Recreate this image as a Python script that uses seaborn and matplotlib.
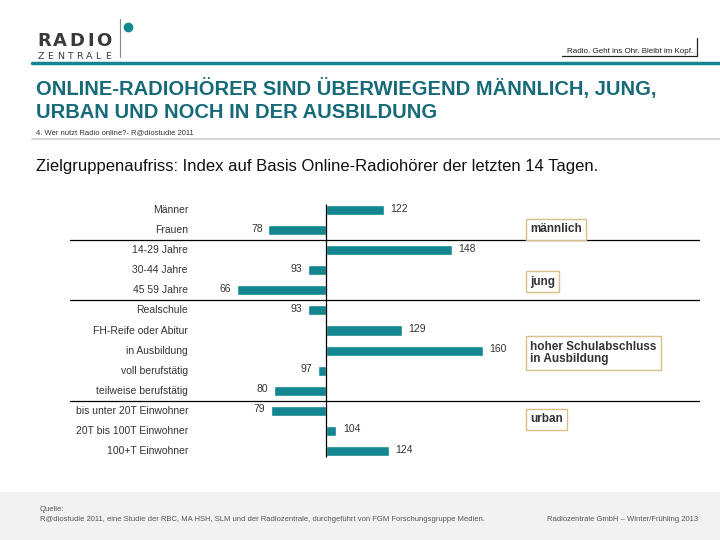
import matplotlib
matplotlib.use("Agg")
import matplotlib.pyplot as plt
import seaborn as sns
import pandas as pd
from matplotlib.lines import Line2D
from matplotlib.patches import Rectangle

# data (index, base = 100)
categories = ["Männer", "Frauen", "14-29 Jahre", "30-44 Jahre", "45 59 Jahre",
              "Realschule", "FH-Reife oder Abitur", "in Ausbildung",
              "voll berufstätig", "teilweise berufstätig",
              "bis unter 20T Einwohner", "20T bis 100T Einwohner", "100+T Einwohner"]
index_values = [122, 78, 148, 93, 66, 93, 129, 160, 97, 80, 79, 104, 124]
base = 100
group_breaks = [1.5, 4.5, 9.5]
notes = ["männlich", "jung", "hoher Schulabschluss\nin Ausbildung", "urban"]

df = pd.DataFrame({"Gruppe": categories, "Index": index_values})
df["Abweichung"] = df["Index"] - base

teal = "#13868f"
title_col = "#176b78"
text_col = "#333333"
sans = ["Liberation Sans", "DejaVu Sans"]

sns.set_style("white")
plt.rcParams["font.family"] = sans

W, H = 720, 540
fig = plt.figure(figsize=(7.2, 5.4), dpi=100)


def fx(x):
    return x / W


def fy(y):
    return 1 - y / H


# header / logo (letter-spaced)
radio_x = [37, 53, 69, 87, 96]
for ch, lx in zip("RADIO", radio_x):
    fig.text(fx(lx), fy(46.5), ch, fontsize=13, fontweight="bold", color="#3a3a3a",
             family=["DejaVu Sans"], ha="left", va="baseline")
for k, ch in enumerate("ZENTRALE"):
    fig.text(fx(38 + k * 9.6), fy(58.5), ch, fontsize=6.8, color="#3a3a3a",
             family=["DejaVu Sans"], ha="left", va="baseline")
fig.add_artist(Line2D([fx(120), fx(120)], [fy(19), fy(57)], color="#888888", lw=0.8))
fig.add_artist(Line2D([fx(128)], [fy(27)], marker="o", ms=6, color=teal, lw=0))
fig.text(fx(693), fy(53), "Radio. Geht ins Ohr. Bleibt im Kopf.", fontsize=5.8,
         color="#222222", ha="right", va="baseline")
fig.add_artist(Line2D([fx(562), fx(697), fx(697)], [fy(56), fy(56), fy(38)],
                      color="#222222", lw=0.9))
fig.add_artist(Line2D([fx(32), fx(720)], [fy(63), fy(63)], color=teal, lw=2.5))

fig.text(fx(36), fy(95), "ONLINE-RADIOHÖRER SIND ÜBERWIEGEND MÄNNLICH, JUNG,",
         fontsize=14.5, fontweight="bold", color=title_col, va="baseline")
fig.text(fx(36), fy(118), "URBAN UND NOCH IN DER AUSBILDUNG",
         fontsize=14.5, fontweight="bold", color=title_col, va="baseline")
fig.text(fx(36), fy(134), "4. Wer nutzt Radio online?- R@diostudie 2011",
         fontsize=5.5, color="#333333", va="baseline")
fig.add_artist(Line2D([fx(32), fx(720)], [fy(139), fy(139)], color="#cfcfcf", lw=1.2))

fig.text(fx(36), fy(171), "Zielgruppenaufriss: Index auf Basis Online-Radiohörer der letzten 14 Tagen.",
         fontsize=12, color="#111111", va="baseline")

# chart
ax_left, ax_right = 70, 700
ax_top, ax_bottom = 200, 461
ax = fig.add_axes([fx(ax_left), fy(ax_bottom), (ax_right - ax_left) / W,
                   (ax_bottom - ax_top) / H])
sns.barplot(data=df, x="Abweichung", y="Gruppe", orient="h", color=teal,
            width=0.5, saturation=1, ax=ax)

scale = 2.62  # px per index point
x0 = 326
ax.set_xlim((ax_left - x0) / scale, (ax_right - x0) / scale)
ax.set_ylim(12.5, -0.5)
ax.set_xlabel("")
ax.set_ylabel("")
ax.set_xticks([])
ax.set_yticks([])
for s in ax.spines.values():
    s.set_visible(False)

ax.vlines(0, -0.3, 12.3, color="black", lw=0.9)
for b in group_breaks:
    ax.axhline(b, color="black", lw=0.9)

lab_x = (188 - ax_left) / (ax_right - ax_left)
for i, (cat, val, dev) in enumerate(zip(df["Gruppe"], df["Index"], df["Abweichung"])):
    ax.text(lab_x, i, cat, transform=ax.get_yaxis_transform(), ha="right",
            va="center", fontsize=7.5, color=text_col)
    if dev >= 0:
        ax.annotate(str(val), (dev, i), xytext=(4.5, 1), textcoords="offset points",
                    ha="left", va="center", fontsize=7.5, color=text_col)
    else:
        ax.annotate(str(val), (dev, i), xytext=(-4, 1), textcoords="offset points",
                    ha="right", va="center", fontsize=7.5, color=text_col)

# annotation boxes placed in figure pixels
note_boxes = [(530, 229.5), (530, 281.5), (530, 353), (530, 419.5)]
for note, (bx, by) in zip(notes, note_boxes):
    fig.text(fx(bx), fy(by), note, fontsize=8.5, fontweight="bold", color=text_col,
             ha="left", va="center", linespacing=1.1,
             bbox=dict(boxstyle="square,pad=0.35", fc="white", ec="#d8c08c", lw=1))

# footer
fig.add_artist(Rectangle((0, 0), 1, fy(492), transform=fig.transFigure,
                         color="#f2f2f2", zorder=0))
fig.text(fx(40), fy(511), "Quelle:", fontsize=5.5, color="#555555")
fig.text(fx(40), fy(521),
         "R@diostudie 2011, eine Studie der RBC, MA HSH, SLM und der Radiozentrale, durchgeführt von FGM Forschungsgruppe Medien.",
         fontsize=5.5, color="#555555")
fig.text(fx(698), fy(521), "Radiozentrale GmbH – Winter/Frühling 2013",
         fontsize=5.5, color="#555555", ha="right")

fig.savefig("out.png", dpi=100)
